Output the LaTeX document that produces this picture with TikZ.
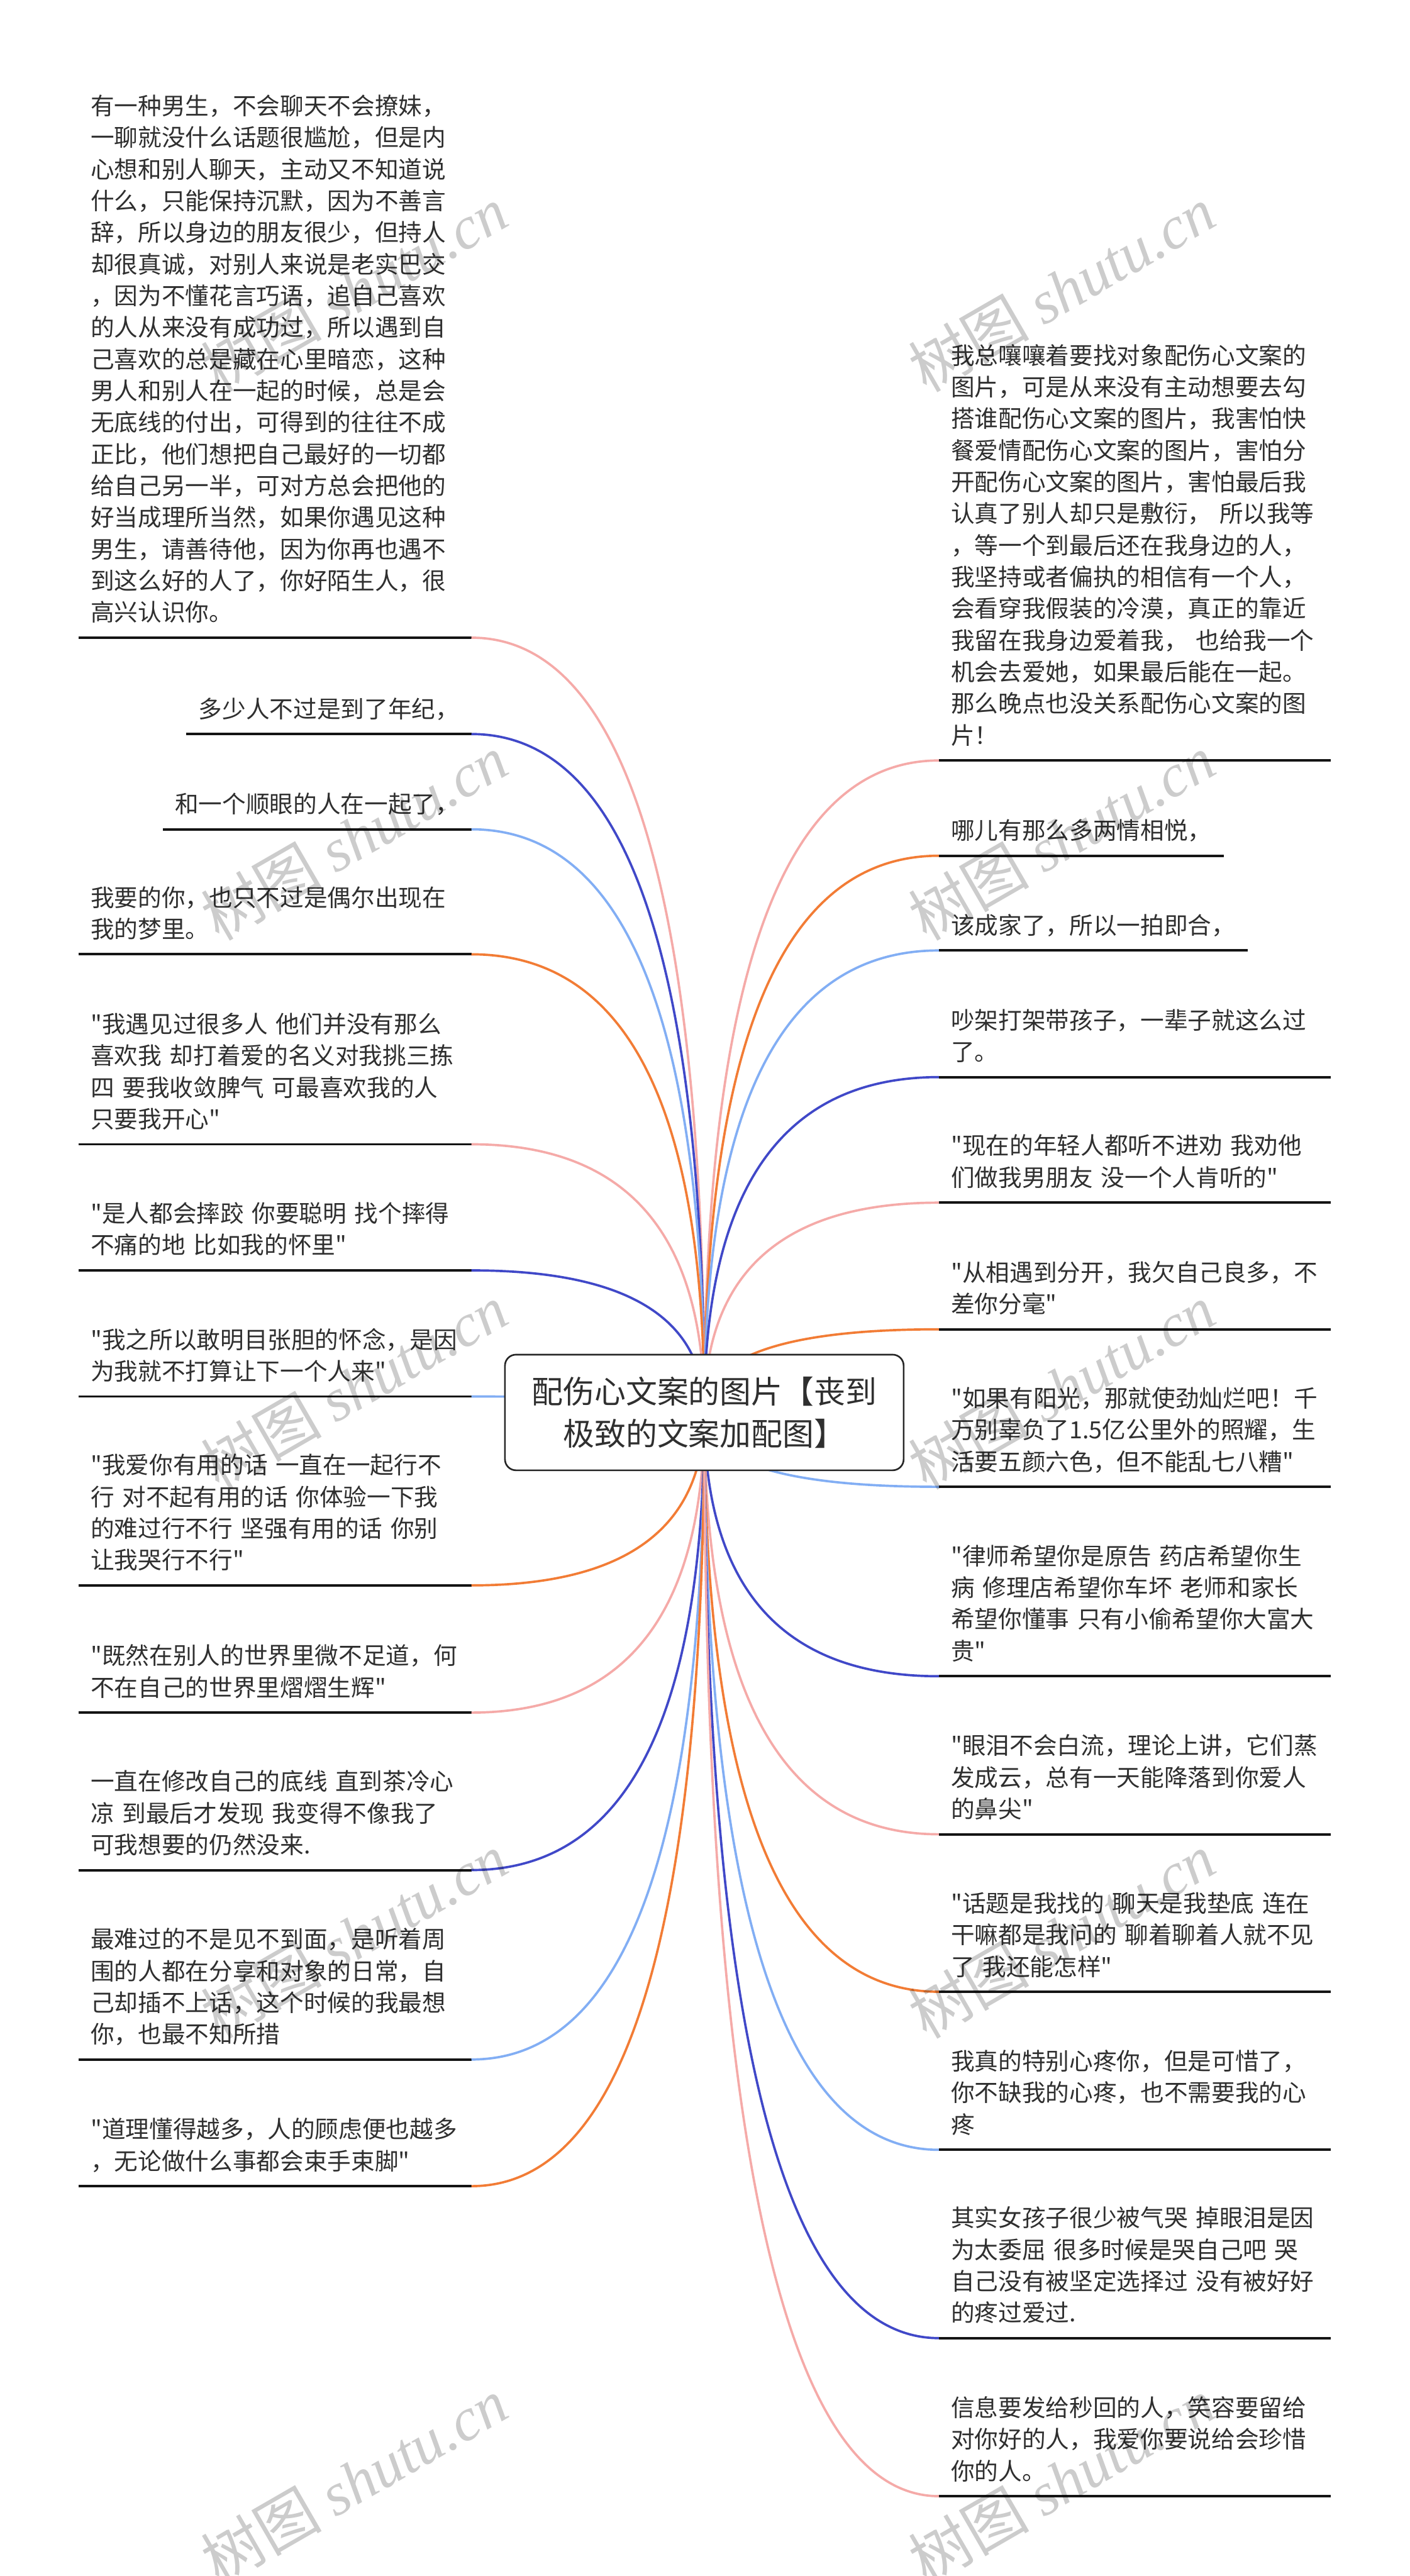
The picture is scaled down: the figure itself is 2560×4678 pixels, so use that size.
\documentclass[tikz,border=0pt]{standalone}
\usepackage{fontspec}
\setmainfont{Noto Sans CJK SC}[Ligatures=TeXOff]
\newfontfamily\wmlatin{Liberation Serif}
\usetikzlibrary{calc}
\definecolor{cpink}{HTML}{F5AAA8}
\definecolor{cblue}{HTML}{4048C8}
\definecolor{clblue}{HTML}{82AEF4}
\definecolor{corange}{HTML}{F27C35}
\definecolor{txt}{HTML}{2F2F2F}
\newcommand\leaffont{\fontsize{43pt}{57.5pt}\selectfont}
\newcommand\hubfont{\fontsize{57pt}{76pt}\selectfont}
\newcommand\wmfont{\fontsize{110pt}{110pt}\selectfont}
\tikzset{
 bigL/.style={anchor=base east, align=left, text width=669pt, inner xsep=22pt, inner ysep=0pt, font=\leaffont, text=txt},
 smallL/.style={anchor=base east, align=left, inner xsep=22pt, inner ysep=0pt, font=\leaffont, text=txt},
 bigR/.style={anchor=base west, align=left, text width=667pt, inner xsep=22pt, inner ysep=0pt, font=\leaffont, text=txt},
 smallR/.style={anchor=base west, align=left, inner xsep=22pt, inner ysep=0pt, font=\leaffont, text=txt},
 uline/.style={draw=black!92, line width=4.5pt},
 link/.style={line width=4.2pt},
 hub/.style={draw=black!85, line width=3pt, rounded corners=20pt, fill=white, minimum width=724pt, minimum height=210pt, align=center, font=\hubfont, text=txt, inner sep=0pt},
 wm/.style={font=\wmfont, text=black, text opacity=0.2, rotate=30}
}
\newcommand\leafL[5]{\coordinate (e#1) at (856,#2);
 \node[#4] (#1) at (856,{#2-29.7-(#3-1)*57.5}) {#5};
 \draw[uline] (#1.west |- e#1) -- (e#1);}
\newcommand\leafR[5]{\coordinate (e#1) at (1705,#2);
 \node[#4] (#1) at (1705,{#2-29.7-(#3-1)*57.5}) {#5};
 \draw[uline] (e#1) -- (#1.east |- e#1);}
\newcommand\mmlink[2]{\coordinate (k) at (c |- #2);
 \draw[link,#1] (c) .. controls ($(c)!0.6667!(k)$) and ($(#2)!0.6667!(k)$) .. (#2);}
\begin{document}
\begin{tikzpicture}[x=1pt,y=-1pt]
\useasboundingbox (0,0) rectangle (2560,4678);
\fill[white] (0,0) rectangle (2560,4678);
\coordinate (c) at (1279,2565);

% left leaves
\leafL{L1}{1158}{17}{bigL}{有一种男生，不会聊天不会撩妹，\\一聊就没什么话题很尴尬，但是内\\心想和别人聊天，主动又不知道说\\什么，只能保持沉默，因为不善言\\辞，所以身边的朋友很少，但持人\\却很真诚，对别人来说是老实巴交\\，因为不懂花言巧语，追自己喜欢\\的人从来没有成功过，所以遇到自\\己喜欢的总是藏在心里暗恋，这种\\男人和别人在一起的时候，总是会\\无底线的付出，可得到的往往不成\\正比，他们想把自己最好的一切都\\给自己另一半，可对方总会把他的\\好当成理所当然，如果你遇见这种\\男生，请善待他，因为你再也遇不\\到这么好的人了，你好陌生人，很\\高兴认识你。}
\leafL{L2}{1333}{1}{smallL}{多少人不过是到了年纪，}
\leafL{L3}{1506}{1}{smallL}{和一个顺眼的人在一起了，}
\leafL{L4}{1733}{2}{bigL}{我要的你，也只不过是偶尔出现在\\我的梦里。}
\leafL{L5}{2078}{4}{bigL}{"我遇见过很多人~他们并没有那么\\喜欢我~却打着爱的名义对我挑三拣\\四~要我收敛脾气~可最喜欢我的人\\只要我开心"}
\leafL{L6}{2307}{2}{bigL}{"是人都会摔跤~你要聪明~找个摔得\\不痛的地~比如我的怀里"}
\leafL{L7}{2536}{2}{bigL}{"我之所以敢明目张胆的怀念，是因\\为我就不打算让下一个人来"}
\leafL{L8}{2879}{4}{bigL}{"我爱你有用的话~一直在一起行不\\行~对不起有用的话~你体验一下我\\的难过行不行~坚强有用的话~你别\\让我哭行不行"}
\leafL{L9}{3110}{2}{bigL}{"既然在别人的世界里微不足道，何\\不在自己的世界里熠熠生辉"}
\leafL{L10}{3396}{3}{bigL}{一直在修改自己的底线~直到茶冷心\\凉~到最后才发现~我变得不像我了\\可我想要的仍然没来.}
\leafL{L11}{3740}{4}{bigL}{最难过的不是见不到面，是听着周\\围的人都在分享和对象的日常，自\\己却插不上话，这个时候的我最想\\你，也最不知所措}
\leafL{L12}{3970}{2}{bigL}{"道理懂得越多，人的顾虑便也越多\\，无论做什么事都会束手束脚"}

% right leaves
\leafR{R1}{1381}{13}{bigR}{我总嚷嚷着要找对象配伤心文案的\\图片，可是从来没有主动想要去勾\\搭谁配伤心文案的图片，我害怕快\\餐爱情配伤心文案的图片，害怕分\\开配伤心文案的图片，害怕最后我\\认真了别人却只是敷衍，~所以我等\\，等一个到最后还在我身边的人，\\我坚持或者偏执的相信有一个人，\\会看穿我假装的冷漠，真正的靠近\\我留在我身边爱着我，~也给我一个\\机会去爱她，如果最后能在一起。\\那么晚点也没关系配伤心文案的图\\片！}
\leafR{R2}{1554}{1}{smallR}{哪儿有那么多两情相悦，}
\leafR{R3}{1726}{1}{smallR}{该成家了，所以一拍即合，}
\leafR{R4}{1956}{2}{bigR}{吵架打架带孩子，一辈子就这么过\\了。}
\leafR{R5}{2184}{2}{bigR}{"现在的年轻人都听不进劝~我劝他\\们做我男朋友~没一个人肯听的"}
\leafR{R6}{2414}{2}{bigR}{"从相遇到分开，我欠自己良多，不\\差你分毫"}
\leafR{R7}{2700}{3}{bigR}{"如果有阳光，那就使劲灿烂吧！千\\万别辜负了1.5亿公里外的照耀，生\\活要五颜六色，但不能乱七八糟"}
\leafR{R8}{3044}{4}{bigR}{"律师希望你是原告~药店希望你生\\病~修理店希望你车坏~老师和家长\\希望你懂事~只有小偷希望你大富大\\贵"}
\leafR{R9}{3331}{3}{bigR}{"眼泪不会白流，理论上讲，它们蒸\\发成云，总有一天能降落到你爱人\\的鼻尖"}
\leafR{R10}{3617}{3}{bigR}{"话题是我找的~聊天是我垫底~连在\\干嘛都是我问的~聊着聊着人就不见\\了~我还能怎样"}
\leafR{R11}{3904}{3}{bigR}{我真的特别心疼你，但是可惜了，\\你不缺我的心疼，也不需要我的心\\疼}
\leafR{R12}{4246}{4}{bigR}{其实女孩子很少被气哭~掉眼泪是因\\为太委屈~很多时候是哭自己吧~哭\\自己没有被坚定选择过~没有被好好\\的疼过爱过.}
\leafR{R13}{4533}{3}{bigR}{信息要发给秒回的人，笑容要留给\\对你好的人，我爱你要说给会珍惜\\你的人。}

% connectors
\mmlink{cpink}{eL1}
\mmlink{cblue}{eL2}
\mmlink{clblue}{eL3}
\mmlink{corange}{eL4}
\mmlink{cpink}{eL5}
\mmlink{cblue}{eL6}
\mmlink{clblue}{eL7}
\mmlink{corange}{eL8}
\mmlink{cpink}{eL9}
\mmlink{cblue}{eL10}
\mmlink{clblue}{eL11}
\mmlink{corange}{eL12}
\mmlink{cpink}{eR1}
\mmlink{corange}{eR2}
\mmlink{clblue}{eR3}
\mmlink{cblue}{eR4}
\mmlink{cpink}{eR5}
\mmlink{corange}{eR6}
\mmlink{clblue}{eR7}
\mmlink{cblue}{eR8}
\mmlink{cpink}{eR9}
\mmlink{corange}{eR10}
\mmlink{clblue}{eR11}
\mmlink{cblue}{eR12}
\mmlink{cpink}{eR13}

% central topic
\node[hub] (C) at (c) {配伤心文案的图片【丧到\\极致的文案加配图】};

% watermarks
\foreach \wx/\wy [count=\i] in {643/525,1928/525,643/1520,1928/1520,643/2518,1928/2518,643/3515,1928/3515,643/4505,1928/4505}
  \node[wm] (w\i) at (\wx,\wy) {树图 {\wmlatin\itshape shutu.cn}};
\end{tikzpicture}
\end{document}
